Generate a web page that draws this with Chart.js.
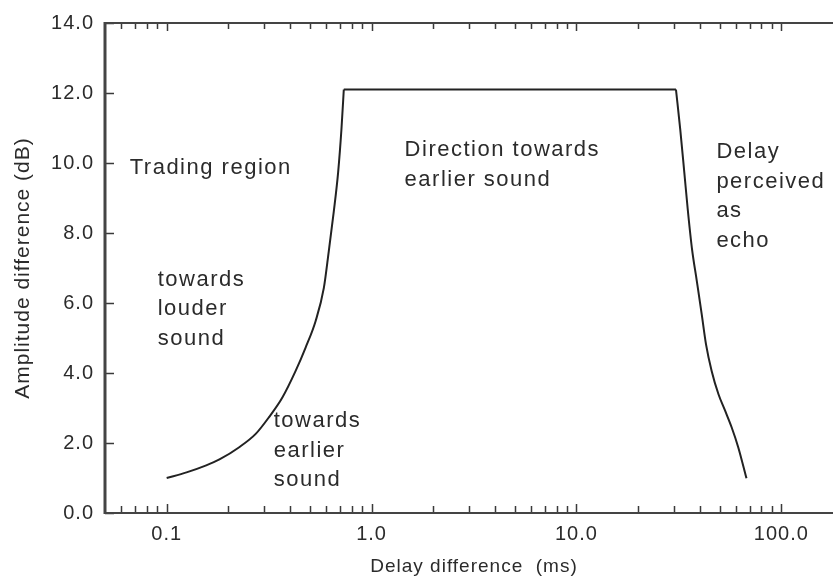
<!DOCTYPE html>
<html>
<head>
<meta charset="utf-8">
<script src="https://cdn.jsdelivr.net/npm/chart.js@4/dist/chart.umd.min.js"></script>
<style>
    html, body { margin: 0; padding: 0; background: #fff; overflow: hidden; }
    #wrap { width: 845px; height: 583px; }
</style>
</head>
<body>
<div id="wrap"><canvas id="precedenceChart" width="845" height="583"></canvas></div>
<script>
// rising edge (trading region boundary)
const leftDelay = [0.1, 0.125, 0.156, 0.181, 0.226, 0.272, 0.316, 0.367, 0.426, 0.476, 0.533, 0.585, 0.618, 0.654, 0.687, 0.713, 0.732];
const leftAmp   = [1.0, 1.16, 1.36, 1.53, 1.88, 2.26, 2.74, 3.30, 4.06, 4.72, 5.48, 6.43, 7.47, 8.61, 9.74, 10.97, 12.1];
// falling edge (echo boundary)
const rightDelay = [30.6, 32.1, 33.6, 34.9, 36.6, 38.7, 40.9, 42.9, 45.7, 49.3, 53.1, 57.2, 61.6, 67.6];
const rightAmp   = [12.1, 10.97, 9.74, 8.70, 7.57, 6.62, 5.67, 4.82, 4.06, 3.40, 2.93, 2.45, 1.88, 0.99];

const xMajor = [0.1, 1, 10, 100];
const xTickLabels = ['0.1', '1.0', '10.0', '100.0'];
const xMinor = [0.06, 0.07, 0.08, 0.09,
    0.2, 0.3, 0.4, 0.5, 0.6, 0.7, 0.8, 0.9,
    2, 3, 4, 5, 6, 7, 8, 9,
    20, 30, 40, 50, 60, 70, 80, 90];
const yTicks = [0, 2, 4, 6, 8, 10, 12, 14];

const notes = [
    { lines: ['Trading region'], x: 0.066, y: 9.68 },
    { lines: ['Direction towards', 'earlier sound'], x: 1.45, y: 10.19 },
    { lines: ['towards', 'louder', 'sound'], x: 0.0904, y: 6.49 },
    { lines: ['towards', 'earlier', 'sound'], x: 0.333, y: 2.45 },
    { lines: ['Delay', 'perceived', 'as', 'echo'], x: 48.2, y: 10.13 }
];

const ink = '#2b2b2b';
const fontFamily = '"Liberation Sans", Arial, Helvetica, sans-serif';

const toPoints = function (xs, ys) {
    return xs.map(function (d, i) { return { x: d, y: ys[i] }; });
};

const curveStyle = function (points, mode) {
    return {
        data: points,
        borderColor: '#222',
        borderWidth: 2,
        pointRadius: 0,
        cubicInterpolationMode: mode,
        tension: 0,
        fill: false
    };
};

// text spacing of the scanned figure
const spacingPlugin = {
    id: 'spacing',
    beforeDraw: function (chart) {
        chart.ctx.letterSpacing = '1px';
    }
};

// box frame with inward ticks on all four sides
const framePlugin = {
    id: 'frame',
    afterDatasetsDraw: function (chart) {
        const ctx = chart.ctx;
        const a = chart.chartArea;
        const xs = chart.scales.x;
        const ys = chart.scales.y;
        ctx.save();
        ctx.strokeStyle = '#3a3a3a';
        ctx.lineWidth = 1.5;
        xs.ticks.forEach(function (t) {
            const px = Math.round(xs.getPixelForValue(t.value)) + 0.5;
            const len = xMajor.includes(t.value) ? 9 : 7;
            ctx.beginPath();
            ctx.moveTo(px, a.bottom); ctx.lineTo(px, a.bottom - len);
            ctx.moveTo(px, a.top); ctx.lineTo(px, a.top + len - 1);
            ctx.stroke();
        });
        ys.ticks.forEach(function (t) {
            const py = Math.round(ys.getPixelForValue(t.value)) + 0.5;
            ctx.beginPath();
            ctx.moveTo(a.left, py); ctx.lineTo(a.left + 9, py);
            ctx.moveTo(a.right, py); ctx.lineTo(a.right - 9, py);
            ctx.stroke();
        });
        ctx.strokeStyle = '#444';
        ctx.lineWidth = 2;
        ctx.beginPath();
        ctx.moveTo(a.left, a.top); ctx.lineTo(a.right, a.top);
        ctx.moveTo(a.left, a.bottom); ctx.lineTo(a.right, a.bottom);
        ctx.moveTo(a.right, a.top); ctx.lineTo(a.right, a.bottom);
        ctx.stroke();
        ctx.lineWidth = 3;
        ctx.beginPath();
        ctx.moveTo(a.left, a.top - 1); ctx.lineTo(a.left, a.bottom + 1);
        ctx.stroke();
        ctx.restore();
    }
};

const notesPlugin = {
    id: 'notes',
    afterDraw: function (chart) {
        const ctx = chart.ctx;
        const xs = chart.scales.x;
        const ys = chart.scales.y;
        ctx.save();
        ctx.font = '22px ' + fontFamily;
        ctx.letterSpacing = '1.5px';
        ctx.fillStyle = ink;
        ctx.textAlign = 'left';
        ctx.textBaseline = 'alphabetic';
        notes.forEach(function (n) {
            const px = xs.getPixelForValue(n.x);
            const py = ys.getPixelForValue(n.y);
            n.lines.forEach(function (line, i) {
                ctx.fillText(line, px, py + i * 29.5);
            });
        });
        ctx.restore();
    }
};

const showChart = function () {
    const ctx = document.getElementById('precedenceChart').getContext('2d');
    Chart.defaults.font.family = fontFamily;
    Chart.defaults.color = ink;

    const leftPts = toPoints(leftDelay, leftAmp);
    const rightPts = toPoints(rightDelay, rightAmp);
    const plateau = [leftPts[leftPts.length - 1], rightPts[0]];

    new Chart(ctx, {
        type: 'line',
        data: {
            datasets: [
                curveStyle(leftPts, 'monotone'),
                curveStyle(plateau, 'default'),
                curveStyle(rightPts, 'monotone')
            ]
        },
        options: {
            responsive: false,
            animation: false,
            layout: { padding: { top: 21, right: 2, left: 0, bottom: 0 } },
            plugins: { legend: { display: false }, tooltip: { enabled: false } },
            scales: {
                x: {
                    type: 'logarithmic',
                    min: 0.05,
                    max: 200,
                    grid: { display: false, drawTicks: false },
                    border: { display: false },
                    afterBuildTicks: function (scale) {
                        scale.ticks = xMinor.concat(xMajor).sort(function (p, q) { return p - q; })
                            .map(function (v) { return { value: v }; });
                    },
                    afterFit: function (scale) { scale.height = 70; },
                    ticks: {
                        autoSkip: false,
                        maxRotation: 0,
                        padding: 9,
                        font: { size: 20 },
                        callback: function (value) {
                            const i = xMajor.indexOf(value);
                            return i >= 0 ? xTickLabels[i] : '';
                        }
                    },
                    title: {
                        display: true,
                        text: 'Delay difference  (ms)',
                        font: { size: 19 },
                        padding: { top: 0, bottom: 5 }
                    }
                },
                y: {
                    min: 0,
                    max: 14,
                    grid: { display: false, drawTicks: false },
                    border: { display: false },
                    afterBuildTicks: function (scale) {
                        scale.ticks = yTicks.map(function (v) { return { value: v }; });
                    },
                    afterFit: function (scale) { scale.width = 105; },
                    ticks: {
                        padding: 11,
                        font: { size: 20 },
                        callback: function (value) { return Number(value).toFixed(1); }
                    },
                    title: {
                        display: true,
                        text: 'Amplitude difference (dB)',
                        font: { size: 21 },
                        padding: { top: 11, bottom: 0 }
                    }
                }
            }
        },
        plugins: [spacingPlugin, framePlugin, notesPlugin]
    });
};

showChart();
</script>
</body>
</html>
